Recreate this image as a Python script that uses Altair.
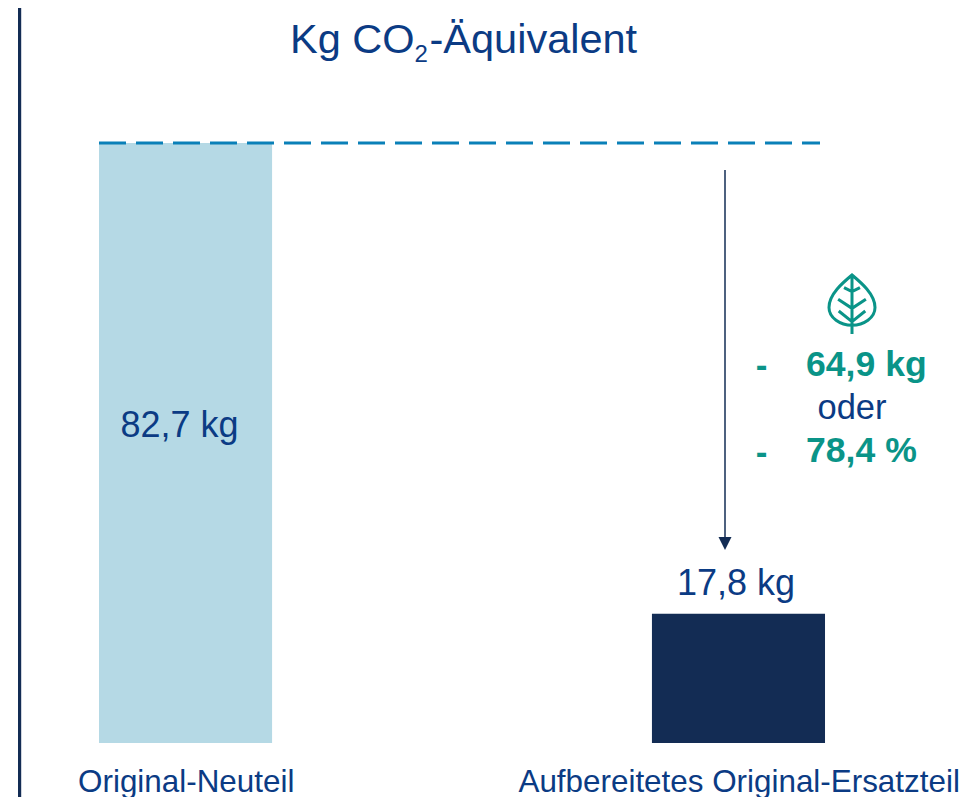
import altair as alt
import pandas as pd

categories = ["Original-Neuteil", "Aufbereitetes Original-Ersatzteil"]
values = [82.7, 17.8]
bar_colors = ["#B5D9E5", "#132C54"]
title_parts = ["Kg CO", "2", "-Äquivalent"]
value_labels = ["82,7 kg", "17,8 kg"]
saving_labels = ["64,9 kg", "78,4 %"]
connector_word = "oder"

FONT = "Liberation Sans"
NAVY = "#132C54"
BLUE_TEXT = "#0B3B84"
TEAL = "#0A9488"
DASH = "#0A80B8"

LEAF = (
    "M0,-1 C-0.3,-0.75 -0.78,-0.35 -0.78,0.1 C-0.78,0.45 -0.4,0.7 0,0.7 "
    "C0.4,0.7 0.78,0.45 0.78,0.1 C0.78,-0.35 0.3,-0.75 0,-1 Z "
    "M0,-1 L0,1 "
    "M-0.27,-0.57 L0,-0.435 L0.27,-0.57 "
    "M-0.47,-0.18 L0,0.13 L0.47,-0.18 "
    "M-0.45,0.22 L0,0.58 L0.45,0.22"
)
ARROW_HEAD = "M-1,-1 L1,-1 L0,1 Z"

one = pd.DataFrame({"a": [0]})
bars_df = pd.DataFrame({"cat": categories, "value": values, "color": bar_colors})

x_scale = alt.Scale(domain=categories, paddingInner=0.687, paddingOuter=0.2143, align=0.384)
y_scale = alt.Scale(domain=[0, 101.31], nice=False, zero=False)


def text(label, x, y, size, color=BLUE_TEXT, weight="normal", align="center", baseline="middle"):
    return alt.Chart(one).mark_text(
        text=label, font=FONT, fontSize=size, color=color, fontWeight=weight,
        align=align, baseline=baseline,
    ).encode(x=alt.value(x), y=alt.value(y))


bars = alt.Chart(bars_df).mark_bar().encode(
    x=alt.X(
        "cat:N", sort=categories, scale=x_scale, title=None,
        axis=alt.Axis(
            domain=False, ticks=False, labelAngle=0, labelFont=FONT, labelFontSize=31.4,
            labelColor=BLUE_TEXT, labelPadding=48, labelLimit=600, grid=False,
            labelBaseline="alphabetic", labelOffset=0.7,
        ),
    ),
    y=alt.Y("value:Q", scale=y_scale, axis=None),
    color=alt.Color("color:N", scale=None),
)

dashed = alt.Chart(one).mark_rule(
    color=DASH, strokeWidth=3, strokeDash=[27, 10]
).encode(
    x=alt.value(91), x2=alt.value(812),
    y=alt.Y(datum=values[0], scale=y_scale),
)

left_line = alt.Chart(one).mark_rule(color=NAVY, strokeWidth=3.2).encode(
    x=alt.value(11.6), y=alt.value(0), y2=alt.value(791)
)

arrow = alt.Chart(one).mark_rule(color=NAVY, strokeWidth=1.5).encode(
    x=alt.value(717), y=alt.value(162), y2=alt.value(530)
)
arrow_head = alt.Chart(one).mark_point(
    shape=ARROW_HEAD, size=169, filled=True, color=NAVY, opacity=1
).encode(x=alt.value(717), y=alt.value(535.5))

leaf = alt.Chart(one).mark_point(
    shape=LEAF, size=3481, filled=False, color=TEAL, strokeWidth=3, opacity=1
).encode(x=alt.value(844), y=alt.value(296.5))

chart = alt.layer(
    left_line,
    bars,
    dashed,
    arrow,
    arrow_head,
    leaf,
    text(title_parts[0], 282, 45, 41.5, align="left", baseline="alphabetic"),
    text(title_parts[1], 406.5, 54, 24, align="left", baseline="alphabetic"),
    text(title_parts[2], 421.5, 45, 41.5, align="left", baseline="alphabetic"),
    text(value_labels[0], 171.5, 417.5, 36),
    text(value_labels[1], 728, 575.5, 36),
    text("-", 753.5, 358, 35, TEAL, "bold"),
    text(saving_labels[0], 798, 357, 35.6, TEAL, "bold", "left"),
    text(connector_word, 844, 400.5, 34.5),
    text("-", 753.5, 445, 35, TEAL, "bold"),
    text(saving_labels[1], 798, 443, 35.6, TEAL, "bold", "left"),
).properties(
    width=963, height=735,
    autosize=alt.AutoSizeParams(type="none"),
    padding={"left": 0, "top": 0, "right": 0, "bottom": 56},
).configure_view(stroke=None)

chart.save("out.html", embed_options={"renderer": "svg", "actions": False})
